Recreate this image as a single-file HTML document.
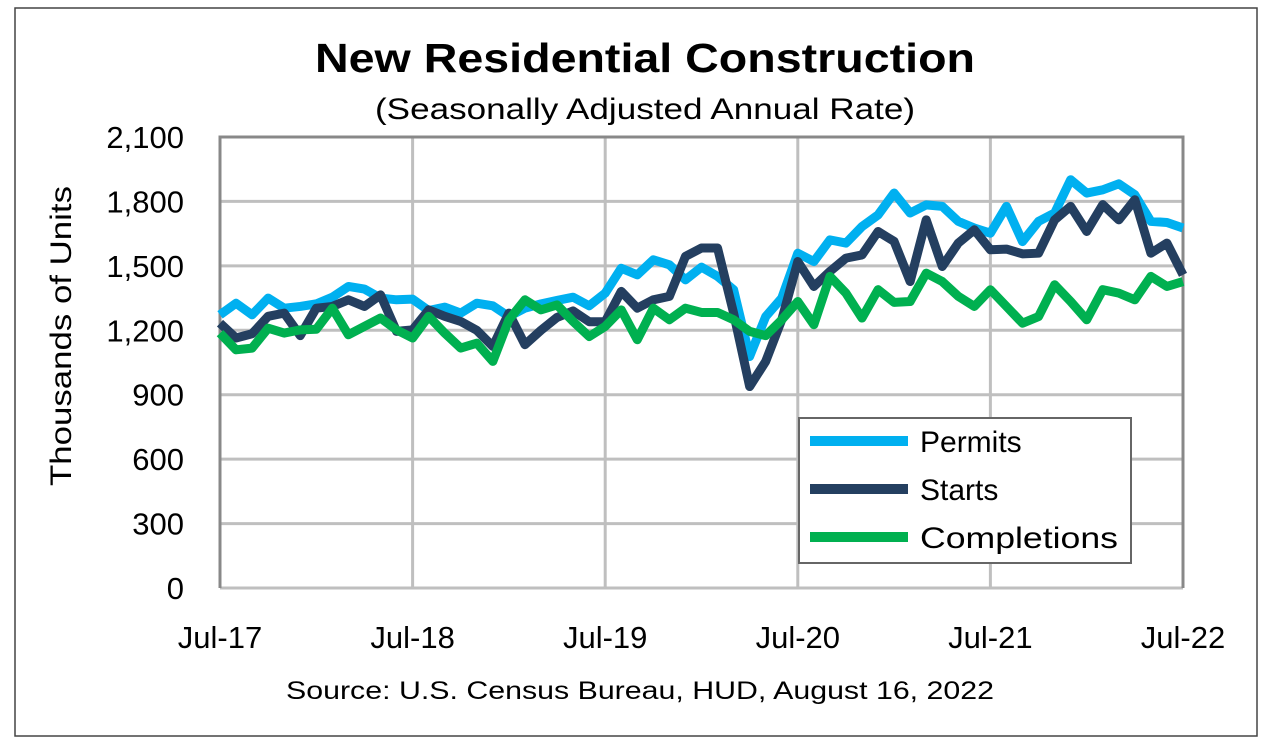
<!DOCTYPE html>
<html><head><meta charset="utf-8"><style>
body{margin:0;background:#fff;width:1264px;height:742px;overflow:hidden;font-family:"Liberation Sans",sans-serif}
</style></head><body>
<svg width="1264" height="742" viewBox="0 0 1264 742">
<rect x="15" y="8" width="1242" height="728" fill="#fff" stroke="#444" stroke-width="1.5"/>
<text x="645" y="72" text-anchor="middle" font-size="41" font-weight="bold" textLength="660" lengthAdjust="spacingAndGlyphs">New Residential Construction</text>
<text x="645" y="119" text-anchor="middle" font-size="30" textLength="540" lengthAdjust="spacingAndGlyphs">(Seasonally Adjusted Annual Rate)</text>
<text transform="translate(71,336) rotate(-90)" text-anchor="middle" font-size="30" textLength="300" lengthAdjust="spacingAndGlyphs">Thousands of Units</text>
<text x="640" y="699" text-anchor="middle" font-size="25" textLength="708" lengthAdjust="spacingAndGlyphs">Source:  U.S. Census Bureau, HUD, August 16, 2022</text>
<g id="grid"></g><g id="axes"></g><g id="series"></g>
<g>
<rect x="799" y="418" width="332" height="145" fill="#fff" stroke="#666" stroke-width="2"/>
<line x1="810" y1="441" x2="908" y2="441" stroke="#00b0f0" stroke-width="10"/>
<text x="920" y="452" font-size="30">Permits</text>
<line x1="810" y1="489" x2="908" y2="489" stroke="#243f60" stroke-width="10"/>
<text x="920" y="500" font-size="30">Starts</text>
<line x1="810" y1="537" x2="908" y2="537" stroke="#00b050" stroke-width="10"/>
<text x="920" y="548" font-size="30" textLength="198" lengthAdjust="spacingAndGlyphs">Completions</text>
</g>
</svg>
<script>
const yTicks=[0,300,600,900,1200,1500,1800,2100];
const yTickLabels=["0","300","600","900","1,200","1,500","1,800","2,100"];
const xTickMonths=[0,12,24,36,48,60];
const xTickLabels=["Jul-17","Jul-18","Jul-19","Jul-20","Jul-21","Jul-22"];
const permits=[1272,1326,1272,1350,1303,1311,1323,1354,1404,1392,1350,1342,1345,1292,1308,1280,1326,1314,1264,1303,1323,1339,1354,1314,1373,1489,1458,1528,1505,1435,1494,1451,1389,1078,1264,1350,1559,1520,1621,1606,1683,1737,1839,1746,1784,1777,1707,1676,1652,1777,1613,1707,1746,1901,1839,1854,1882,1831,1707,1702,1676];
const starts=[1233,1164,1184,1265,1280,1175,1303,1311,1342,1311,1365,1195,1202,1295,1265,1241,1200,1125,1280,1133,1200,1260,1290,1240,1240,1381,1303,1342,1358,1544,1583,1583,1280,938,1055,1249,1520,1404,1474,1536,1551,1660,1614,1427,1714,1497,1606,1668,1575,1578,1556,1559,1714,1777,1660,1785,1714,1808,1559,1606,1458];
const completions=[1187,1109,1117,1210,1187,1202,1205,1303,1179,1218,1257,1202,1164,1265,1187,1117,1140,1055,1249,1342,1295,1318,1241,1171,1218,1295,1156,1303,1249,1303,1283,1283,1249,1195,1175,1249,1334,1226,1451,1373,1257,1389,1330,1334,1466,1427,1358,1311,1389,1311,1233,1264,1412,1334,1249,1389,1373,1342,1451,1404,1427];
const X0=220,X1=1183,Y0=588,Y1=137,NM=60,YMAX=2100;
const xs=m=>X0+(X1-X0)*m/NM;
const ys=v=>Y0-(Y0-Y1)*v/YMAX;
const NS="http://www.w3.org/2000/svg";
function mk(tag,attrs,parent){const e=document.createElementNS(NS,tag);for(const k in attrs)e.setAttribute(k,attrs[k]);parent.appendChild(e);return e;}
const grid=document.getElementById('grid'),axes=document.getElementById('axes'),ser=document.getElementById('series');
yTicks.forEach((v,i)=>{
  const l=mk('line',{x1:X0,x2:X1,y1:ys(v),y2:ys(v),stroke:'#bfbfbf','stroke-width':3},grid);
  
  
  const t=mk('text',{x:184,y:ys(v)+11,'text-anchor':'end','font-size':31},axes);
  t.textContent=yTickLabels[i];
  
  
});
xTickMonths.forEach((m,i)=>{
  const l=mk('line',{x1:xs(m),x2:xs(m),y1:Y1,y2:Y0,stroke:'#bfbfbf','stroke-width':3},grid);
  
  
  const t=mk('text',{x:xs(m),y:648,'text-anchor':'middle','font-size':31},axes);
  t.textContent=xTickLabels[i];
  
  
});
const fr=mk('path',{d:`M${X0} ${Y0}V${Y1}H${X1}V${Y0}`,fill:'none',stroke:'#888','stroke-width':3},axes);


[[permits,'#00b0f0','permits-line'],[starts,'#243f60','starts-line'],[completions,'#00b050','completions-line']].forEach(([d,c,n])=>{
  const p=mk('polyline',{points:d.map((v,i)=>xs(i)+','+ys(v)).join(' '),fill:'none',stroke:c,'stroke-width':9,'stroke-linejoin':'round'},ser);
  
  
});
</script>
</body></html>
